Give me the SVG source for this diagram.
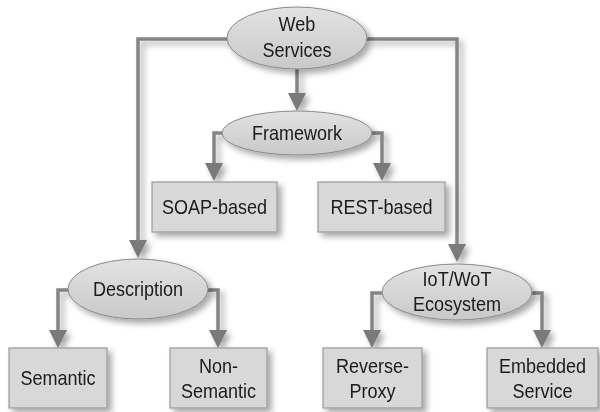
<svg xmlns="http://www.w3.org/2000/svg" width="600" height="412" viewBox="0 0 600 412">
<defs>
<filter id="sh" x="-20%" y="-20%" width="150%" height="160%">
<feGaussianBlur in="SourceAlpha" stdDeviation="3"/>
<feOffset dx="4" dy="4" result="b"/>
<feComponentTransfer><feFuncA type="linear" slope="0.35"/></feComponentTransfer>
<feMerge><feMergeNode/><feMergeNode in="SourceGraphic"/></feMerge>
</filter>
<linearGradient id="eg" x1="0" y1="0" x2="0" y2="1">
<stop offset="0" stop-color="#e2e2e2"/>
<stop offset="1" stop-color="#c9c9c9"/>
</linearGradient>
<marker id="ah" viewBox="0 0 18 18" refX="0" refY="9" markerWidth="18" markerHeight="18" markerUnits="userSpaceOnUse" orient="auto">
<path d="M0,0 L18,9 L0,18 z" fill="#7a7a7a"/>
</marker>
</defs>
<style>
.c{fill:none;stroke:#858585;stroke-width:3.5;marker-end:url(#ah)}
.e{fill:url(#eg);stroke:#8a8a8a;stroke-width:1}
.b{fill:#d8d8d8;stroke:#9a9a9a;stroke-width:1.2}
text{font-family:"Liberation Sans",Arial,sans-serif;font-size:20.5px;fill:#1a1a1a;text-anchor:middle}
</style>
<rect width="600" height="412" fill="#fff"/>
<g id="connectors" filter="url(#sh)">
<path class="c" d="M227,39 H138 V240"/>
<path class="c" d="M367,39 H457 V244"/>
<path class="c" d="M297,69 V93"/>
<path class="c" d="M222,133 H214 V163"/>
<path class="c" d="M372,133 H382 V163"/>
<path class="c" d="M68,290 H58 V330"/>
<path class="c" d="M208,290 H218 V330"/>
<path class="c" d="M382,293 H372 V330"/>
<path class="c" d="M532,293 H542 V330"/>
</g>
<g id="web-services" filter="url(#sh)">
<ellipse class="e" cx="297" cy="38" rx="70" ry="31"/>
<text transform="translate(297,31) scale(0.88,1)">Web</text>
<text transform="translate(297,57) scale(0.88,1)">Services</text>
</g>
<g id="framework" filter="url(#sh)">
<ellipse class="e" cx="297" cy="133" rx="75" ry="22"/>
<text transform="translate(297,140) scale(0.88,1)">Framework</text>
</g>
<g id="soap-based" filter="url(#sh)">
<rect class="b" x="152" y="182" width="125" height="50"/>
<text transform="translate(214.5,214) scale(0.88,1)">SOAP-based</text>
</g>
<g id="rest-based" filter="url(#sh)">
<rect class="b" x="318" y="182" width="127" height="50"/>
<text transform="translate(381.5,214) scale(0.88,1)">REST-based</text>
</g>
<g id="description" filter="url(#sh)">
<ellipse class="e" cx="138" cy="289" rx="70" ry="30"/>
<text transform="translate(138,296) scale(0.88,1)">Description</text>
</g>
<g id="iot-wot" filter="url(#sh)">
<ellipse class="e" cx="457" cy="292" rx="75" ry="28"/>
<text transform="translate(457,286) scale(0.88,1)">IoT/WoT</text>
<text transform="translate(457,311) scale(0.88,1)">Ecosystem</text>
</g>
<g id="semantic" filter="url(#sh)">
<rect class="b" x="9" y="348" width="98" height="60"/>
<text transform="translate(58,385) scale(0.88,1)">Semantic</text>
</g>
<g id="non-semantic" filter="url(#sh)">
<rect class="b" x="170" y="348" width="97" height="60"/>
<text transform="translate(218.5,373) scale(0.88,1)">Non-</text>
<text transform="translate(218.5,398) scale(0.88,1)">Semantic</text>
</g>
<g id="reverse-proxy" filter="url(#sh)">
<rect class="b" x="323" y="348" width="99" height="60"/>
<text transform="translate(372.5,373) scale(0.88,1)">Reverse-</text>
<text transform="translate(372.5,398) scale(0.88,1)">Proxy</text>
</g>
<g id="embedded-service" filter="url(#sh)">
<rect class="b" x="487" y="348" width="111" height="60"/>
<text transform="translate(542.5,373) scale(0.88,1)">Embedded</text>
<text transform="translate(542.5,398) scale(0.88,1)">Service</text>
</g>
</svg>
